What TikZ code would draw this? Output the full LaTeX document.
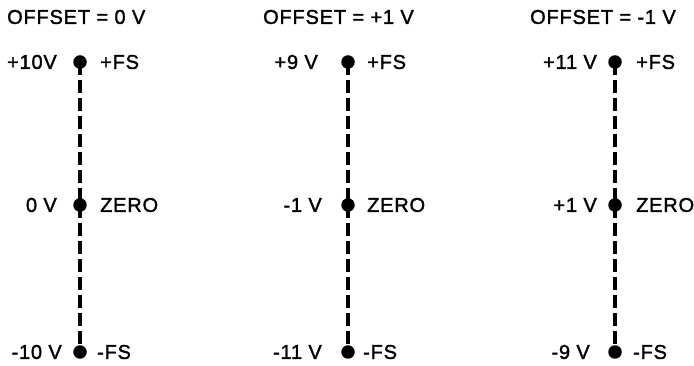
\documentclass[tikz,border=0pt]{standalone}
\usepackage{fontspec}
\setmainfont{Liberation Sans}[LetterSpace=4,FakeBold=1.6]
\begin{document}
\begin{tikzpicture}[x=1pt,y=1pt,
  dot/.style={circle,fill=black,inner sep=0pt,minimum size=13.5pt},
  lbl/.style={inner sep=0pt,font=\fontsize{20}{22}\selectfont},
  lleft/.style={lbl,anchor=east},
  lright/.style={lbl,anchor=west},
  title/.style={lbl,anchor=west},
  rail/.style={line width=3.2pt,dash pattern=on 13pt off 5pt}]
\useasboundingbox (0,0) rectangle (694,366);
% column 1
\node[title] (t1) at (7,349) {OFFSET = 0 V};
\node[dot] (a1) at (80,304) {};
\node[dot] (a2) at (80,161) {};
\node[dot] (a3) at (80,14) {};
\draw[rail] (a1.center) -- (a2.center);
\draw[rail] (a2.center) -- (a3.center);
\node[lleft] (la1) at (57,304) {+10V};
\node[lright] (ra1) at (100,304) {+FS};
\node[lleft] (la2) at (57,161) {0 V};
\node[lright] (ra2) at (100,161) {ZERO};
\node[lleft] (la3) at (62,14) {-10 V};
\node[lright] (ra3) at (97,14) {-FS};
% column 2
\node[title] (t2) at (263,349) {OFFSET = +1 V};
\node[dot] (b1) at (348,304) {};
\node[dot] (b2) at (348,161) {};
\node[dot] (b3) at (348,14) {};
\draw[rail] (b1.center) -- (b2.center);
\draw[rail] (b2.center) -- (b3.center);
\node[lleft] (lb1) at (318,304) {+9 V};
\node[lright] (rb1) at (367,304) {+FS};
\node[lleft] (lb2) at (322,161) {-1 V};
\node[lright] (rb2) at (367,161) {ZERO};
\node[lleft] (lb3) at (322,14) {-11 V};
\node[lright] (rb3) at (363,14) {-FS};
% column 3
\node[title] (t3) at (530,349) {OFFSET = -1 V};
\node[dot] (c1) at (615,304) {};
\node[dot] (c2) at (615,161) {};
\node[dot] (c3) at (615,14) {};
\draw[rail] (c1.center) -- (c2.center);
\draw[rail] (c2.center) -- (c3.center);
\node[lleft] (lc1) at (597,304) {+11 V};
\node[lright] (rc1) at (636,304) {+FS};
\node[lleft] (lc2) at (597,161) {+1 V};
\node[lright] (rc2) at (636,161) {ZERO};
\node[lleft] (lc3) at (590,14) {-9 V};
\node[lright] (rc3) at (633,14) {-FS};
\end{tikzpicture}
\end{document}
